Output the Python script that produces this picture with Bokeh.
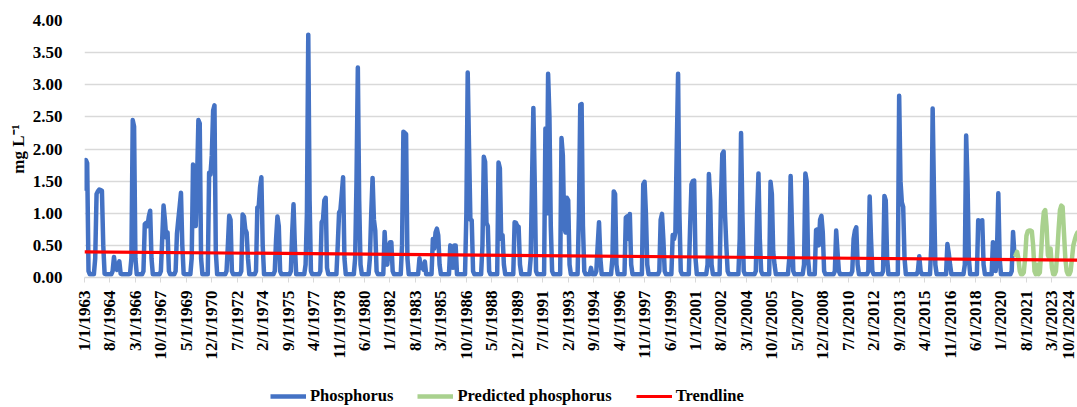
import math

from bokeh.embed import file_html
from bokeh.layouts import column
from bokeh.models import (ColumnDataSource, FixedTicker, Legend, LegendItem,
                          NumeralTickFormatter, Range1d)
from bokeh.plotting import figure
from bokeh.resources import INLINE

# Monthly phosphorus concentration (mg L-1), one row of 12 values per year
phos_1963_1969 = [
    1.35, 1.83, 1.78, 0.10, 0.05, 0.05, 0.05, 0.05, 0.30, 1.30, 1.34, 1.37,
    1.36, 1.35, 0.50, 0.06, 0.05, 0.05, 0.05, 0.05, 0.05, 0.10, 0.32, 0.15,
    0.12, 0.20, 0.25, 0.06, 0.05, 0.05, 0.05, 0.05, 0.05, 0.05, 0.06, 0.30,
    2.45, 2.35, 0.30, 0.05, 0.05, 0.05, 0.05, 0.05, 0.10, 0.83, 0.85, 0.80,
    0.95, 1.04, 0.30, 0.05, 0.05, 0.05, 0.05, 0.05, 0.05, 0.10, 0.60, 1.12,
    0.90, 0.62, 0.70, 0.10, 0.05, 0.05, 0.05, 0.05, 0.10, 0.68, 0.90, 1.10,
    1.32, 0.50, 0.06, 0.05, 0.05, 0.05, 0.05, 0.05, 0.30, 1.76, 1.70, 0.80,
]
phos_1970_1979 = [
    1.50, 2.45, 2.40, 0.30, 0.05, 0.05, 0.05, 0.05, 0.05, 1.63, 1.60, 1.90,
    2.60, 2.68, 0.40, 0.05, 0.05, 0.05, 0.05, 0.05, 0.05, 0.05, 0.10, 0.50,
    0.96, 0.90, 0.10, 0.05, 0.05, 0.05, 0.05, 0.05, 0.05, 0.10, 0.98, 0.95,
    0.75, 0.70, 0.30, 0.05, 0.05, 0.05, 0.05, 0.05, 0.10, 1.09, 1.10, 1.40,
    1.56, 0.50, 0.05, 0.05, 0.05, 0.05, 0.05, 0.05, 0.05, 0.05, 0.10, 0.60,
    0.95, 0.80, 0.10, 0.05, 0.05, 0.05, 0.05, 0.05, 0.05, 0.05, 0.10, 0.70,
    1.14, 0.50, 0.05, 0.05, 0.05, 0.05, 0.05, 0.05, 0.05, 0.20, 1.00, 3.78,
    1.20, 0.10, 0.05, 0.05, 0.05, 0.05, 0.05, 0.05, 0.10, 0.86, 0.90, 1.20,
    1.24, 0.15, 0.05, 0.05, 0.05, 0.05, 0.05, 0.05, 0.05, 0.50, 1.01, 1.05,
    1.30, 1.56, 0.30, 0.05, 0.05, 0.05, 0.05, 0.05, 0.05, 0.05, 0.30, 1.50,
]
phos_1980_1989 = [
    3.27, 1.20, 0.20, 0.05, 0.05, 0.05, 0.05, 0.05, 0.05, 0.30, 1.00, 1.55,
    0.90, 0.73, 0.10, 0.05, 0.05, 0.05, 0.05, 0.05, 0.71, 0.30, 0.20, 0.45,
    0.55, 0.55, 0.10, 0.05, 0.05, 0.05, 0.05, 0.05, 0.05, 0.50, 2.27, 2.25,
    2.23, 0.30, 0.05, 0.05, 0.05, 0.05, 0.05, 0.05, 0.05, 0.05, 0.30, 0.15,
    0.20, 0.12, 0.25, 0.05, 0.05, 0.05, 0.05, 0.05, 0.60, 0.45, 0.70, 0.76,
    0.66, 0.20, 0.05, 0.05, 0.05, 0.05, 0.05, 0.05, 0.05, 0.50, 0.45, 0.15,
    0.50, 0.50, 0.05, 0.05, 0.05, 0.05, 0.05, 0.05, 0.05, 1.00, 3.19, 2.00,
    0.90, 0.89, 0.10, 0.05, 0.05, 0.05, 0.05, 0.05, 0.05, 0.50, 1.88, 1.80,
    0.85, 0.80, 0.10, 0.05, 0.05, 0.05, 0.05, 0.05, 0.05, 1.79, 1.70, 0.60,
    0.66, 0.20, 0.05, 0.05, 0.05, 0.05, 0.05, 0.05, 0.05, 0.86, 0.85, 0.80,
]
phos_1990_1999 = [
    0.79, 0.20, 0.05, 0.05, 0.05, 0.05, 0.05, 0.05, 0.05, 0.30, 1.50, 2.64,
    1.50, 0.10, 0.05, 0.05, 0.05, 0.05, 0.05, 0.05, 2.32, 1.00, 3.17, 2.50,
    0.80, 0.10, 0.05, 0.05, 0.05, 0.05, 0.05, 0.05, 2.17, 1.90, 0.80, 0.70,
    1.24, 1.20, 0.20, 0.05, 0.05, 0.05, 0.05, 0.05, 0.05, 1.00, 2.69, 2.70,
    0.80, 0.10, 0.05, 0.05, 0.05, 0.05, 0.15, 0.05, 0.05, 0.05, 0.10, 0.50,
    0.86, 0.30, 0.05, 0.05, 0.05, 0.05, 0.05, 0.05, 0.05, 0.05, 0.30, 1.34,
    1.30, 0.20, 0.05, 0.05, 0.05, 0.05, 0.05, 0.05, 0.93, 0.95, 0.60, 0.99,
    0.20, 0.05, 0.05, 0.05, 0.05, 0.05, 0.05, 0.05, 0.05, 1.45, 1.49, 1.00,
    0.20, 0.05, 0.05, 0.05, 0.05, 0.05, 0.05, 0.05, 0.05, 0.10, 0.90, 0.99,
    0.60, 0.10, 0.05, 0.05, 0.05, 0.05, 0.05, 0.66, 0.60, 0.70, 2.00, 3.17,
]
phos_2000_2009 = [
    1.00, 0.10, 0.05, 0.05, 0.05, 0.05, 0.05, 0.05, 0.80, 1.45, 1.50, 1.51,
    0.30, 0.05, 0.05, 0.05, 0.05, 0.05, 0.05, 0.05, 0.05, 0.20, 1.61, 1.20,
    0.20, 0.05, 0.05, 0.05, 0.05, 0.05, 0.05, 1.20, 1.92, 1.96, 1.00, 0.50,
    0.10, 0.05, 0.05, 0.05, 0.05, 0.05, 0.05, 0.05, 0.05, 0.60, 2.25, 1.00,
    0.10, 0.05, 0.05, 0.05, 0.05, 0.05, 0.05, 0.05, 0.05, 0.10, 1.00, 1.62,
    0.60, 0.10, 0.05, 0.05, 0.05, 0.05, 0.05, 0.05, 1.49, 1.30, 0.40, 0.20,
    0.05, 0.05, 0.05, 0.05, 0.05, 0.05, 0.05, 0.05, 0.05, 0.05, 0.30, 1.58,
    0.80, 0.10, 0.05, 0.05, 0.05, 0.05, 0.05, 0.05, 0.05, 0.20, 1.62, 1.50,
    0.30, 0.05, 0.05, 0.05, 0.05, 0.05, 0.74, 0.75, 0.50, 0.90, 0.96, 0.70,
    0.10, 0.05, 0.05, 0.05, 0.05, 0.05, 0.05, 0.05, 0.10, 0.73, 0.40, 0.10,
]
phos_2010_2020 = [
    0.05, 0.05, 0.05, 0.05, 0.05, 0.05, 0.05, 0.05, 0.05, 0.10, 0.60, 0.73,
    0.78, 0.20, 0.05, 0.05, 0.05, 0.05, 0.05, 0.05, 0.05, 0.10, 1.26, 0.60,
    0.10, 0.05, 0.05, 0.05, 0.05, 0.05, 0.05, 0.05, 0.10, 1.27, 1.20, 0.30,
    0.05, 0.05, 0.05, 0.05, 0.05, 0.05, 0.05, 0.05, 2.83, 1.50, 1.17, 1.10,
    0.30, 0.05, 0.05, 0.05, 0.05, 0.05, 0.05, 0.05, 0.05, 0.05, 0.10, 0.33,
    0.10, 0.05, 0.05, 0.05, 0.05, 0.05, 0.05, 0.05, 0.50, 2.63, 1.30, 0.20,
    0.05, 0.05, 0.05, 0.05, 0.05, 0.05, 0.05, 0.05, 0.52, 0.38, 0.20, 0.05,
    0.05, 0.05, 0.05, 0.05, 0.05, 0.05, 0.05, 0.05, 0.05, 0.20, 2.21, 1.50,
    0.30, 0.05, 0.05, 0.05, 0.05, 0.05, 0.05, 0.89, 0.88, 0.88, 0.89, 0.20,
    0.05, 0.05, 0.05, 0.05, 0.05, 0.05, 0.55, 0.50, 0.10, 0.40, 1.31, 0.30,
    0.05, 0.05, 0.05, 0.05, 0.05, 0.05, 0.05, 0.05, 0.10, 0.71, 0.37,
]
phos_start = "1/1/1963"

# Model prediction, monthly from November 2020
predicted = [
    0.37, 0.35,
    0.40, 0.30, 0.10, 0.05, 0.05, 0.08, 0.30, 0.65, 0.72, 0.73, 0.73, 0.72,
    0.50, 0.10, 0.05, 0.20, 0.05, 0.08, 0.40, 0.80, 1.02, 1.05, 0.80, 0.35,
    0.30, 0.45, 0.15, 0.05, 0.05, 0.10, 0.40, 0.75, 1.05, 1.12, 1.10, 0.70,
    0.30, 0.10, 0.05, 0.05, 0.10, 0.30, 0.50, 0.58, 0.65, 0.70, 0.70, 0.60,
]
predicted_start = "11/1/2020"

# Linear trend over the record
trend_dates = ["1/1/1963", "12/1/2024"]
trend_values = [0.40, 0.27]

# Category labels shown on the time axis
tick_labels = [
    "1/1/1963", "8/1/1964", "3/1/1966", "10/1/1967", "5/1/1969", "12/1/1970",
    "7/1/1972", "2/1/1974", "9/1/1975", "4/1/1977", "11/1/1978", "6/1/1980",
    "1/1/1982", "8/1/1983", "3/1/1985", "10/1/1986", "5/1/1988", "12/1/1989",
    "7/1/1991", "2/1/1993", "9/1/1994", "4/1/1996", "11/1/1997", "6/1/1999",
    "1/1/2001", "8/1/2002", "3/1/2004", "10/1/2005", "5/1/2007", "12/1/2008",
    "7/1/2010", "2/1/2012", "9/1/2013", "4/1/2015", "11/1/2016", "6/1/2018",
    "1/1/2020", "8/1/2021", "3/1/2023", "10/1/2024",
]
y_ticks = [0.0, 0.5, 1.0, 1.5, 2.0, 2.5, 3.0, 3.5, 4.0]

series_names = ["Phosphorus", "Predicted phosphorus", "Trendline"]
series_colors = ["#4472C4", "#A9D18E", "#FF0000"]


def month_index(label):
    """Months elapsed since January 1963 for an m/d/yyyy label."""
    m, _, y = (int(v) for v in label.split("/"))
    return (y - 1963) * 12 + (m - 1)


phos = (phos_1963_1969 + phos_1970_1979 + phos_1980_1989 +
        phos_1990_1999 + phos_2000_2009 + phos_2010_2020)
p0 = month_index(phos_start)
q0 = month_index(predicted_start)

obs_src = ColumnDataSource(dict(x=[p0 + k for k in range(len(phos))], y=phos))
pred_src = ColumnDataSource(dict(x=[q0 + k for k in range(len(predicted))], y=predicted))
trend_src = ColumnDataSource(dict(x=[month_index(d) for d in trend_dates], y=trend_values))
sources = [obs_src, pred_src, trend_src]

FONT = "Liberation Serif"
GRID = "#D9D9D9"
WIDTHS = [4.5, 4.5, 3.2]
JOINS = ["round", "round", "miter"]

# ---- main chart -------------------------------------------------------------
p = figure(
    width=1077, height=370,
    x_range=Range1d(0, 741.1), y_range=Range1d(0, 4),
    output_backend="svg", toolbar_location=None,
    min_border_left=84, min_border_right=0, min_border_top=20, min_border_bottom=93,
)
p.outline_line_color = None
p.background_fill_color = "white"
p.border_fill_color = "white"

for src, c, w, j in zip(sources, series_colors, WIDTHS, JOINS):
    p.line("x", "y", source=src, line_color=c, line_width=w, line_join=j)

p.xgrid.visible = False
p.ygrid.grid_line_color = GRID
p.ygrid.grid_line_width = 1.3

xa = p.xaxis[0]
xa.ticker = FixedTicker(ticks=[month_index(t) for t in tick_labels])
xa.major_label_overrides = {month_index(t): t for t in tick_labels}
xa.major_label_orientation = math.pi / 2
xa.major_label_text_font = FONT
xa.major_label_text_font_style = "bold"
xa.major_label_text_font_size = "17px"
xa.major_label_text_color = "#000000"
xa.major_label_standoff = 8
xa.axis_line_color = GRID
xa.axis_line_width = 1.3
xa.major_tick_line_color = GRID
xa.major_tick_in = 0
xa.major_tick_out = 5
xa.minor_tick_line_color = None

ya = p.yaxis[0]
ya.ticker = FixedTicker(ticks=y_ticks)
ya.formatter = NumeralTickFormatter(format="0.00")
ya.major_label_text_font = FONT
ya.major_label_text_font_style = "bold"
ya.major_label_text_font_size = "17px"
ya.major_label_text_color = "#000000"
ya.major_label_standoff = 16
ya.axis_line_color = None
ya.major_tick_line_color = None
ya.minor_tick_line_color = None
ya.axis_label = "mg L⁻¹"
ya.axis_label_text_font = FONT
ya.axis_label_text_font_style = "bold"
ya.axis_label_text_font_size = "17px"
ya.axis_label_text_color = "#000000"
ya.axis_label_standoff = 2

# ---- legend strip under the chart -------------------------------------------
# The strip's frame is aligned with the chart frame (left edge at x = 84 px).
lg = figure(
    width=1077, height=37, x_range=Range1d(0, 1), y_range=Range1d(0, 1),
    output_backend="svg", toolbar_location=None,
    x_axis_type=None, y_axis_type=None,
    min_border=0,
)
lg.outline_line_color = None
lg.grid.visible = False
keys = []
for src, c, w in zip(sources, series_colors, WIDTHS):
    r = lg.line("x", "y", source=src, line_color=c, line_width=w)
    r.visible = False  # only its legend swatch is shown
    keys.append(r)

legend = Legend(
    items=[LegendItem(label=n, renderers=[r]) for n, r in zip(series_names, keys)],
    orientation="horizontal",
    location=(186, 1),
    click_policy="none",
    label_text_font=FONT,
    label_text_font_style="bold",
    label_text_font_size="16.5px",
    label_text_color="#000000",
    glyph_width=36,
    glyph_height=18,
    label_standoff=4,
    spacing=24,
    padding=0,
    margin=0,
    border_line_color=None,
    background_fill_alpha=0,
)
lg.add_layout(legend, "center")

open("out.html", "w").write(file_html(column(p, lg), INLINE))
